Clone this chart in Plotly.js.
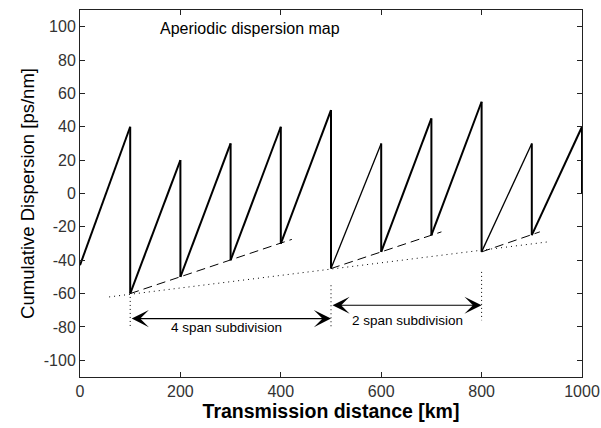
<!DOCTYPE html>
<html>
<head>
<meta charset="utf-8">
<script src="https://cdn.plot.ly/plotly-3.0.1.min.js"></script>
<style>html,body{margin:0;padding:0;background:#fff;}#chart{width:601px;height:428px;}</style>
</head>
<body>
<div id="chart"></div>
<script>
// Cumulative dispersion sawtooth
const sawX = [0,100,100,200,200,300,300,400,400,500,500,600,600,700,700,800,800,900,900,1000,1000];
const sawY = [-43,40,-60,20,-50,30,-40,40,-30,50,-45,30,-35,45,-25,55,-35,30,-25,40,0];
// Dashed sub-trends
const dash1X = [100,200,300,400,422];
const dash1Y = [-60,-50,-40,-30,-27.5];
const dash2X = [500,600,700,720];
const dash2Y = [-45,-35,-25,-23];
const dash3X = [800,900,916];
const dash3Y = [-35,-25,-23];
// Dotted overall trend
const trendX = [58,932];
const trendY = [-62,-29];
// Dotted vertical markers
const markX = [100,500,800];
const markTop = [-62,-55,-47];
const markBot = [-80,-81,-76];
// Subdivision arrows
const arrowLabels = ["4 span subdivision","2 span subdivision"];
const arrowFrom = [100,500];
const arrowTo = [500,800];
const arrowY = [-75,-67];
const labelX = [292,652];
const labelY = [-80.5,-76];
const xTicks = [0,200,400,600,800,1000];
const yTicks = [-100,-80,-60,-40,-20,0,20,40,60,80,100];

const FONT = 'Liberation Sans, Arial, sans-serif';
const traces = [];
traces.push({x: trendX, y: trendY, mode:'lines', line:{color:'#000', width:1, dash:'1px,4px'}, hoverinfo:'skip'});
[[dash1X,dash1Y],[dash2X,dash2Y],[dash3X,dash3Y]].forEach(([dx,dy])=>{
  traces.push({x: dx, y: dy, mode:'lines', line:{color:'#000', width:1, dash:'9px,5px'}, hoverinfo:'skip'});
});
markX.forEach((mx,i)=>{
  traces.push({x:[mx,mx], y:[markTop[i],markBot[i]], mode:'lines', line:{color:'#000', width:1, dash:'1px,3px'}, hoverinfo:'skip'});
});
// sawtooth drawn segment by segment (a few rises are drawn thinner in the original)
const thinStarts = [500, 800];
for (let i = 0; i < sawX.length - 1; i++) {
  const isRise = sawX[i+1] !== sawX[i];
  const thin = isRise && thinStarts.includes(sawX[i]);
  traces.push({x:[sawX[i], sawX[i+1]], y:[sawY[i], sawY[i+1]], mode:'lines',
    line:{color:'#000', width: thin ? 1.3 : 2}, hoverinfo:'skip'});
}

const annotations = [];
annotations.push({x:339, y:99, xref:'x', yref:'y', text:'Aperiodic dispersion map', showarrow:false,
  font:{family:FONT, size:16, color:'#000'}});
arrowLabels.forEach((lab,i)=>{
  annotations.push({x:arrowTo[i], y:arrowY[i], ax:arrowFrom[i], ay:arrowY[i], xref:'x', yref:'y', axref:'x', ayref:'y',
    text:'', showarrow:true, arrowhead:3, startarrowhead:3, arrowside:'end+start', arrowsize:2.6, startarrowsize:2.6, arrowwidth:1.1, arrowcolor:'#000'});
  annotations.push({x:labelX[i], y:labelY[i], xref:'x', yref:'y', text:lab, showarrow:false,
    font:{family:FONT, size:13.5, color:'#000'}});
});

const axisCommon = {showgrid:false, zeroline:false, showline:true, linecolor:'#222', linewidth:1, mirror:'ticks',
  ticks:'inside', ticklen:5, tickcolor:'#222', tickfont:{family:FONT, size:16, color:'#333'}};

const layout = {
  width:601, height:428,
  margin:{l:80, r:19, t:10, b:51},
  paper_bgcolor:'#fff', plot_bgcolor:'#fff',
  showlegend:false,
  xaxis: Object.assign({}, axisCommon, {range:[0,1000], tickvals:xTicks, ticktext:xTicks.map(String),
    title:{text:'<b>Transmission distance [km]</b>', font:{family:FONT, size:19.5, color:'#000'}, standoff:3}}),
  yaxis: Object.assign({}, axisCommon, {range:[-110,110], tickvals:yTicks, ticktext:yTicks.map(String),
    title:{text:'Cumulative Dispersion [ps/nm]', font:{family:FONT, size:18.5, color:'#000'}, standoff:4}}),
  annotations: annotations
};

Plotly.newPlot('chart', traces, layout, {displayModeBar:false, staticPlot:true});
</script>
</body>
</html>
